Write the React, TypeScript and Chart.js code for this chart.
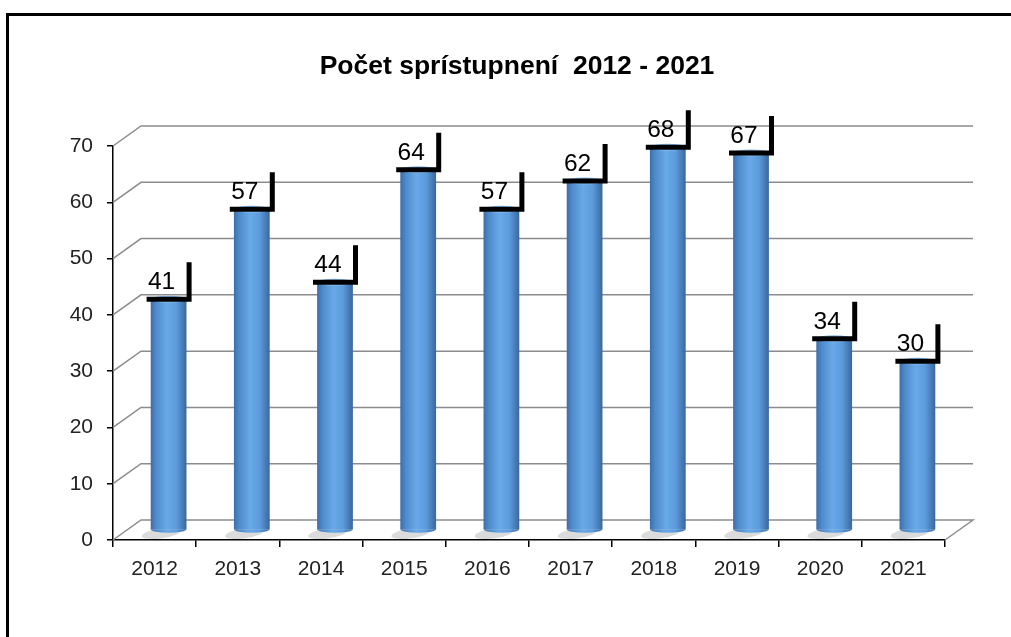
import React, { useEffect, useRef } from "react";
import { Chart, registerables } from "chart.js";

Chart.register(...registerables);

const TITLE = "Počet sprístupnení  2012 - 2021";
const categories = ["2012", "2013", "2014", "2015", "2016", "2017", "2018", "2019", "2020", "2021"];
const values = [41, 57, 44, 64, 57, 62, 68, 67, 34, 30];
const yTicks = [0, 10, 20, 30, 40, 50, 60, 70];

const FONT = "'Liberation Sans', Arial, Helvetica, sans-serif";
const BACK_X = 28;
const BACK_Y = -20;
const MID_X = 14;
const MID_Y = -10;
const BAR_PCT = 0.43;

function barGradient(ctx: CanvasRenderingContext2D, cx: number, w: number) {
  const g = ctx.createLinearGradient(cx - w / 2, 0, cx + w / 2, 0);
  g.addColorStop(0, "#3d6ea8");
  g.addColorStop(0.15, "#4f8ac9");
  g.addColorStop(0.45, "#69a9e8");
  g.addColorStop(0.72, "#5c9bdc");
  g.addColorStop(1, "#3a679f");
  return g;
}

const chart3d = {
  id: "chart3d",
  beforeDraw(chart: any) {
    const ctx = chart.ctx;
    ctx.save();
    ctx.fillStyle = "#ffffff";
    ctx.fillRect(0, 0, chart.width, chart.height);
    ctx.strokeStyle = "#000";
    ctx.lineWidth = 3;
    ctx.beginPath();
    ctx.moveTo(7.5, chart.height);
    ctx.lineTo(7.5, 14.5);
    ctx.lineTo(chart.width, 14.5);
    ctx.stroke();
    ctx.restore();
  },
  beforeDatasetsDraw(chart: any) {
    const ctx = chart.ctx;
    const { x, y } = chart.scales;
    ctx.save();
    ctx.strokeStyle = "#8c8c8c";
    ctx.lineWidth = 1.5;
    yTicks.forEach((v) => {
      const py = y.getPixelForValue(v);
      ctx.beginPath();
      ctx.moveTo(x.left, py);
      ctx.lineTo(x.left + BACK_X, py + BACK_Y);
      ctx.lineTo(x.right + BACK_X, py + BACK_Y);
      if (v === 0) ctx.lineTo(x.right, py);
      ctx.stroke();
    });
    ctx.restore();

    ctx.save();
    ctx.translate(MID_X, MID_Y);
    const meta = chart.getDatasetMeta(0);
    ctx.fillStyle = "rgba(0,0,0,0.14)";
    meta.data.forEach((bar: any) => {
      const { x: bx, base, width } = bar.getProps(["x", "base", "width"], true);
      ctx.beginPath();
      ctx.ellipse(bx - 7, base + 4, width / 2 + 2, 5, -0.15, 0, Math.PI * 2);
      ctx.fill();
    });
  },
  afterDatasetsDraw(chart: any) {
    const ctx = chart.ctx;
    const meta = chart.getDatasetMeta(0);
    meta.data.forEach((bar: any) => {
      const { x: bx, y: by, base, width } = bar.getProps(["x", "y", "base", "width"], true);
      ctx.fillStyle = barGradient(ctx, bx, width);
      ctx.beginPath();
      ctx.ellipse(bx, base, width / 2, 3.5, 0, 0, Math.PI);
      ctx.fill();
      ctx.fillStyle = "#86bbef";
      ctx.beginPath();
      ctx.ellipse(bx, by, width / 2, 3.5, 0, 0, Math.PI * 2);
      ctx.fill();
    });
    ctx.restore();
  },
  afterDraw(chart: any) {
    const ctx = chart.ctx;
    ctx.save();
    ctx.fillStyle = "#000";
    ctx.font = `bold 26.5px ${FONT}`;
    ctx.textAlign = "center";
    ctx.textBaseline = "alphabetic";
    ctx.fillText(TITLE, 517, 74);
    ctx.restore();

    const meta = chart.getDatasetMeta(0);
    ctx.save();
    ctx.translate(MID_X, MID_Y);
    meta.data.forEach((bar: any, i: number) => {
      const { x: bx, y: by } = bar.getProps(["x", "y"], true);
      ctx.strokeStyle = "#000";
      ctx.lineWidth = 5;
      ctx.lineJoin = "miter";
      ctx.beginPath();
      ctx.moveTo(bx - 22, by);
      ctx.lineTo(bx + 20.5, by);
      ctx.lineTo(bx + 20.5, by - 37);
      ctx.stroke();
      ctx.fillStyle = "#000";
      ctx.font = `24.5px ${FONT}`;
      ctx.textAlign = "center";
      ctx.textBaseline = "alphabetic";
      ctx.fillText(String(values[i]), bx - 7, by - 10);
    });
    ctx.restore();
  },
};

export default function App() {
  const ref = useRef<HTMLCanvasElement | null>(null);
  useEffect(() => {
    if (!ref.current) return;
    const chart = new Chart(ref.current, {
      type: "bar",
      data: {
        labels: categories,
        datasets: [
          {
            data: values,
            borderWidth: 0,
            categoryPercentage: 1,
            barPercentage: BAR_PCT,
            backgroundColor: (c: any) => {
              const xs = c.chart.scales.x;
              if (!xs || !xs.width) return "#5a98d9";
              const w = (xs.width / categories.length) * BAR_PCT;
              const px = xs.getPixelForValue(c.dataIndex);
              return barGradient(c.chart.ctx, px, w);
            },
          },
        ],
      },
      options: {
        responsive: false,
        animation: false,
        devicePixelRatio: 1,
        layout: { padding: { left: 0, right: 66, top: 146, bottom: 0 } },
        plugins: {
          legend: { display: false },
          tooltip: { enabled: false },
          title: { display: false },
        },
        scales: {
          x: {
            type: "category",
            offset: true,
            grid: {
              display: true,
              drawOnChartArea: false,
              drawTicks: true,
              tickLength: 7,
              color: "#000",
              lineWidth: 1.5,
              offset: true,
            },
            border: { display: true, color: "#000", width: 1.5 },
            ticks: {
              color: "#222",
              font: { family: FONT, size: 21 },
              padding: 10,
              maxRotation: 0,
              autoSkip: false,
            },
            afterFit: (s: any) => {
              s.height = 97;
            },
          },
          y: {
            min: 0,
            max: 70,
            afterBuildTicks: (s: any) => {
              s.ticks = yTicks.map((v) => ({ value: v }));
            },
            ticks: {
              color: "#222",
              font: { family: FONT, size: 21 },
              padding: 14,
            },
            grid: {
              drawOnChartArea: false,
              drawTicks: true,
              tickLength: 6,
              color: "#000",
              lineWidth: 1.5,
            },
            border: { display: true, color: "#000", width: 1.5 },
            afterFit: (s: any) => {
              s.width = 113;
            },
          },
        },
      },
      plugins: [chart3d],
    } as any);
    return () => chart.destroy();
  }, []);

  return (
    <div style={{ position: "fixed", left: 0, top: 0, width: 1011, height: 637, background: "#fff" }}>
      <canvas ref={ref} width={1011} height={637} style={{ display: "block", width: 1011, height: 637 }} />
    </div>
  );
}
